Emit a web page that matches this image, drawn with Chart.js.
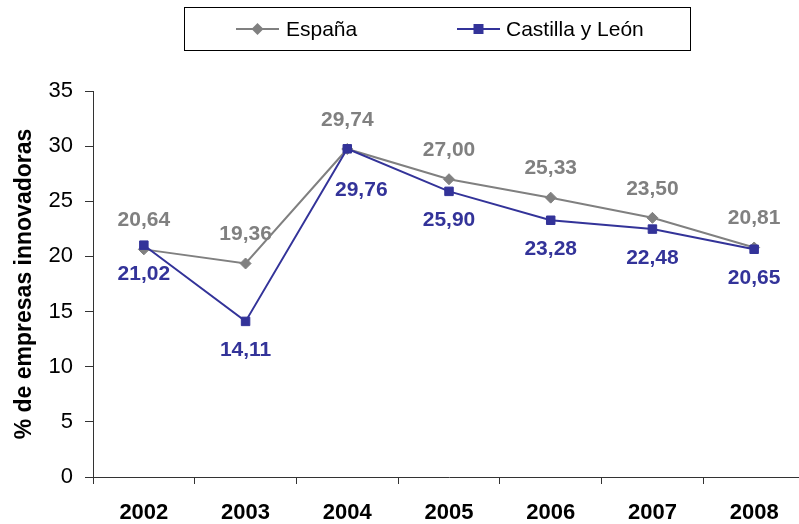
<!DOCTYPE html>
<html>
<head>
<meta charset="utf-8">
<script src="https://cdn.jsdelivr.net/npm/chart.js@4.4.1/dist/chart.umd.min.js"></script>
<style>
  html, body { margin: 0; padding: 0; background: #fff; overflow: hidden; }
  canvas { display: block; }
</style>
</head>
<body>
<canvas id="chart" width="812" height="524"></canvas>
<script>
'use strict';

const years = ['2002', '2003', '2004', '2005', '2006', '2007', '2008'];
const espana = [20.64, 19.36, 29.74, 27.00, 25.33, 23.50, 20.81];
const castillaLeon = [21.02, 14.11, 29.76, 25.90, 23.28, 22.48, 20.65];
const yMin = 0, yMax = 35, yStep = 5;

const GRAY = '#808080';
const BLUE = '#333399';
const FONT = '"Liberation Sans", Arial, sans-serif';

// value labels: España above the point, Castilla y León below
const valueLabels = {
    id: 'valueLabels',
    afterDatasetsDraw(chart) {
        const ctx = chart.ctx;
        ctx.save();
        ctx.font = 'bold 21px ' + FONT;
        ctx.textAlign = 'center';
        ctx.textBaseline = 'middle';
        chart.data.datasets.forEach((ds, i) => {
            const meta = chart.getDatasetMeta(i);
            ctx.fillStyle = ds.borderColor;
            meta.data.forEach((pt, j) => {
                const txt = ds.data[j].toFixed(2).replace('.', ',');
                let dx = 0;
                let dy = ds.labelAbove ? -29 : 29;
                const nudge = ds.labelNudge && ds.labelNudge[j];
                if (nudge) { dx += nudge[0]; dy += nudge[1]; }
                ctx.fillText(txt, pt.x + dx, pt.y + dy);
            });
        });
        ctx.restore();
    }
};

// boxed legend at the top, line + marker like the original
const boxLegend = {
    id: 'boxLegend',
    afterDraw(chart) {
        const ctx = chart.ctx;
        ctx.save();
        ctx.strokeStyle = '#000';
        ctx.lineWidth = 1;
        ctx.strokeRect(184.5, 7.5, 506, 43);

        const items = [
            { ds: chart.data.datasets[1], x0: 236, textX: 286 },
            { ds: chart.data.datasets[0], x0: 457, textX: 506 }
        ];
        const y = 29;
        items.forEach(it => {
            ctx.strokeStyle = it.ds.borderColor;
            ctx.lineWidth = 2;
            ctx.beginPath();
            ctx.moveTo(it.x0, y);
            ctx.lineTo(it.x0 + 43, y);
            ctx.stroke();
            const cx = it.x0 + 21.5;
            ctx.fillStyle = it.ds.pointBackgroundColor;
            ctx.beginPath();
            if (it.ds.pointStyle === 'rectRot') {
                ctx.moveTo(cx, y - 6);
                ctx.lineTo(cx + 6, y);
                ctx.lineTo(cx, y + 6);
                ctx.lineTo(cx - 6, y);
            } else {
                ctx.rect(cx - 5, y - 5, 10, 10);
            }
            ctx.closePath();
            ctx.fill();
            ctx.fillStyle = '#000';
            ctx.font = '21px ' + FONT;
            ctx.textAlign = 'left';
            ctx.textBaseline = 'middle';
            ctx.fillText(it.ds.label, it.textX, y + 1);
        });
        ctx.restore();
    }
};

const ctx = document.getElementById('chart').getContext('2d');

new Chart(ctx, {
    type: 'line',
    data: {
        labels: years,
        datasets: [
            {
                label: 'Castilla y León',
                data: castillaLeon,
                borderColor: BLUE,
                backgroundColor: BLUE,
                pointBackgroundColor: BLUE,
                pointBorderColor: BLUE,
                pointStyle: 'rect',
                pointRadius: 6,
                pointBorderWidth: 1,
                borderWidth: 2,
                tension: 0,
                labelAbove: false,
                labelNudge: { 2: [14, 12] },
                order: 1
            },
            {
                label: 'España',
                data: espana,
                borderColor: GRAY,
                backgroundColor: GRAY,
                pointBackgroundColor: GRAY,
                pointBorderColor: GRAY,
                pointStyle: 'rectRot',
                pointRadius: 5.5,
                pointBorderWidth: 1,
                borderWidth: 2,
                tension: 0,
                labelAbove: true,
                order: 2
            }
        ]
    },
    options: {
        responsive: false,
        animation: false,
        devicePixelRatio: 1,
        layout: { padding: { top: 91, right: 2, bottom: 0, left: 0 } },
        plugins: {
            legend: { display: false },
            tooltip: { enabled: false }
        },
        scales: {
            x: {
                offset: true,
                grid: {
                    offset: true,
                    drawOnChartArea: false,
                    drawTicks: true,
                    tickLength: 7,
                    color: '#333'
                },
                border: { color: '#333', width: 1 },
                ticks: {
                    color: '#000',
                    padding: 16,
                    font: { family: FONT, size: 22, weight: 'bold' }
                },
                afterFit(scale) { scale.height = 47; }
            },
            y: {
                min: yMin,
                max: yMax,
                grid: {
                    drawOnChartArea: false,
                    drawTicks: true,
                    tickLength: 8,
                    color: '#333'
                },
                border: { color: '#333', width: 1 },
                ticks: {
                    stepSize: yStep,
                    color: '#000',
                    padding: 12,
                    font: { family: FONT, size: 22 }
                },
                title: {
                    display: true,
                    text: '% de empresas innovadoras',
                    color: '#000',
                    padding: { top: 11, bottom: 0 },
                    font: { family: FONT, size: 23, weight: 'bold' }
                },
                afterFit(scale) { scale.width = 93; }
            }
        }
    },
    plugins: [valueLabels, boxLegend]
});
</script>
</body>
</html>
